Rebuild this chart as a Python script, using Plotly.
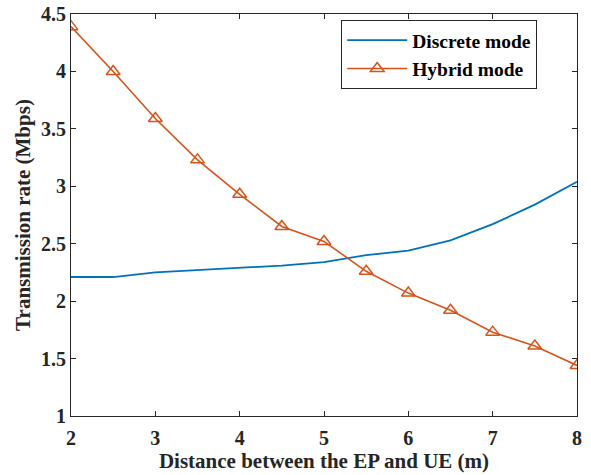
import plotly.graph_objects as go

distance = [2, 2.5, 3, 3.5, 4, 4.5, 5, 5.5, 6, 6.5, 7, 7.5, 8]
discrete = [2.21, 2.21, 2.25, 2.27, 2.29, 2.31, 2.34, 2.40, 2.44, 2.53, 2.67, 2.84, 3.04]
hybrid = [4.39, 4.00, 3.59, 3.23, 2.93, 2.65, 2.52, 2.26, 2.07, 1.92, 1.73, 1.61, 1.44]

FONT = "Liberation Serif"

fig = go.Figure()
fig.add_trace(go.Scatter(x=distance, y=discrete, mode="lines", name="<b>Discrete mode</b>",
                         line=dict(color="#0072BD", width=1.8)))
fig.add_trace(go.Scatter(x=distance, y=hybrid, mode="lines+markers", name="<b>Hybrid mode</b>",
                         line=dict(color="#D95319", width=1.6),
                         marker=dict(symbol="triangle-up-open", size=12,
                                     color="#D95319", line=dict(width=1.5, color="#D95319"))))

axis_common = dict(showgrid=False, zeroline=False, showline=True, mirror="ticks",
                   linecolor="#262626", linewidth=1, ticks="inside", ticklen=5,
                   tickcolor="#262626", automargin=False,
                   tickfont=dict(family=FONT, size=20, color="#262626"))

fig.update_xaxes(range=[2, 8], tickvals=[2, 3, 4, 5, 6, 7, 8],
                 ticktext=["<b>%d</b>" % v for v in [2, 3, 4, 5, 6, 7, 8]],
                 ticklabelstandoff=4,
                 title=dict(text="<b>Distance between the EP and UE (m)</b>",
                            font=dict(family=FONT, size=21, color="#262626"), standoff=4),
                 **axis_common)
yt = [1, 1.5, 2, 2.5, 3, 3.5, 4, 4.5]
fig.update_yaxes(range=[1, 4.5], tickvals=yt,
                 ticktext=["<b>%g</b>" % v for v in yt],
                 title=dict(text="<b>Transmission rate (Mbps)</b>",
                            font=dict(family=FONT, size=21, color="#262626"), standoff=4),
                 **axis_common)

fig.update_layout(
    width=591, height=475,
    margin=dict(l=71, r=14, t=14, b=59),
    plot_bgcolor="white", paper_bgcolor="white",
    font=dict(family=FONT, color="#000000"),
    legend=dict(x=0.534, y=0.985, xanchor="left", yanchor="top",
                bordercolor="#262626", borderwidth=1, bgcolor="white",
                font=dict(family=FONT, size=19.5, color="#000000"),
                tracegroupgap=0, itemwidth=60),
    showlegend=True,
)

fig.write_html("out.html")
